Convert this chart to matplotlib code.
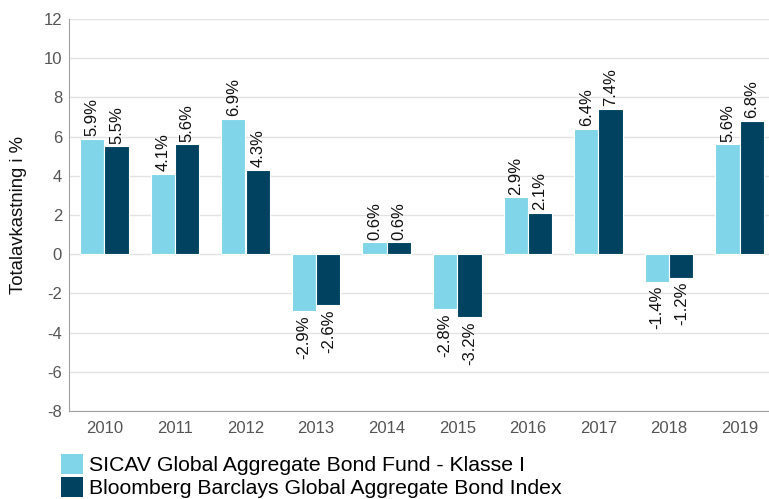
import numpy as np
import matplotlib.pyplot as plt
from matplotlib.patches import Patch

plt.rcParams['font.family'] = ['Liberation Sans', 'DejaVu Sans']
plt.rcParams['axes.unicode_minus'] = False

years = ['2010', '2011', '2012', '2013', '2014', '2015', '2016', '2017', '2018', '2019']
fund = [5.9, 4.1, 6.9, -2.9, 0.6, -2.8, 2.9, 6.4, -1.4, 5.6]
index = [5.5, 5.6, 4.3, -2.6, 0.6, -3.2, 2.1, 7.4, -1.2, 6.8]
series_names = ['SICAV Global Aggregate Bond Fund - Klasse I',
                'Bloomberg Barclays Global Aggregate Bond Index']

light = '#80d6e8'
dark = '#00425f'

fig = plt.figure(figsize=(7.69, 4.99), dpi=100)
ax = fig.add_axes([69 / 769, 88 / 499, 706 / 769, 392 / 499])

x = np.arange(len(years))
w = 0.345
for vals, off, col in [(fund, -w / 2, light), (index, w / 2, dark)]:
    bars = ax.bar(x + off, vals, width=w, color=col, edgecolor='white', linewidth=0.8, zorder=3)
    for b, v in zip(bars, vals):
        lbl = f'{v:.1f}%'
        if v >= 0:
            ax.annotate(lbl, (b.get_x() + b.get_width() / 2, v), xytext=(0, 2),
                        textcoords='offset points', rotation=90, ha='center', va='bottom',
                        fontsize=12, color='#111111')
        else:
            ax.annotate(lbl, (b.get_x() + b.get_width() / 2, v), xytext=(0, -3),
                        textcoords='offset points', rotation=90, ha='center', va='top',
                        fontsize=12, color='#111111')

ax.set_xlim(-0.5, 9.5)
ax.set_ylim(-8, 12)
ax.set_yticks(np.arange(-8, 13, 2))
ax.set_xticks(x)
ax.set_xticklabels(years)
ax.grid(axis='y', color='#e3e3e3', linewidth=1, zorder=0)
ax.set_axisbelow(True)
for s in ['top', 'right']:
    ax.spines[s].set_visible(False)
for s in ['left', 'bottom']:
    ax.spines[s].set_color('#a0a0a0')
ax.tick_params(axis='both', length=0, labelsize=12, labelcolor='#555555')
ax.tick_params(axis='x', pad=7)
ax.tick_params(axis='y', pad=5)
ax.set_ylabel('Totalavkastning i %', fontsize=13.3, color='#111111', labelpad=12)

handles = [Patch(facecolor=light), Patch(facecolor=dark)]
fig.legend(handles, series_names, loc='lower left', bbox_to_anchor=(52 / 769, -0.016),
           frameon=False, fontsize=15.3, handlelength=1.05, handleheight=1.1,
           handletextpad=0.3, labelspacing=0.1, borderaxespad=0)

fig.savefig('out.png', dpi=100)
